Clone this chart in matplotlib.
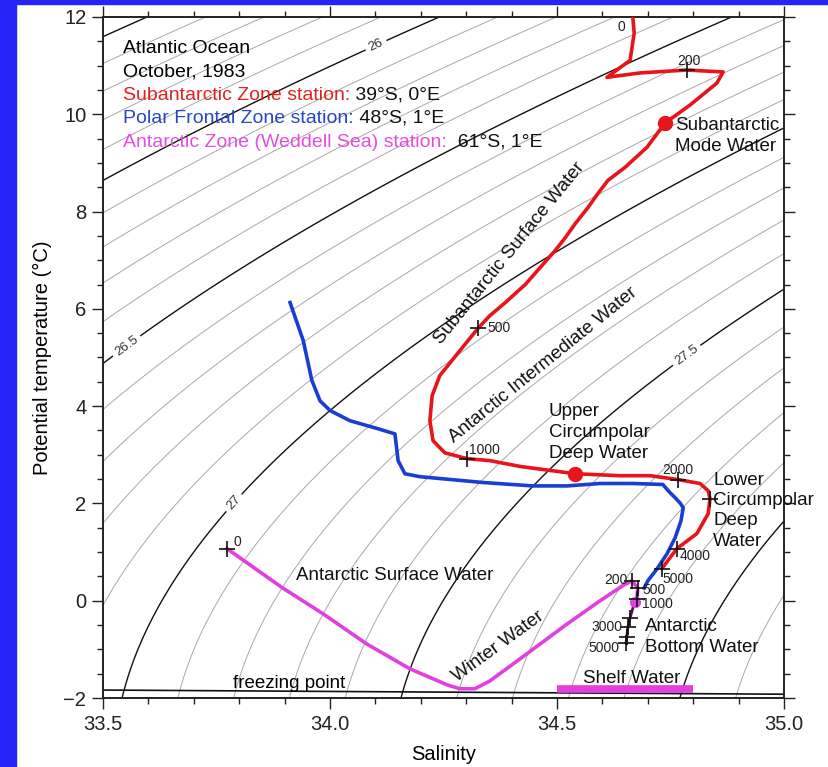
import numpy as np
import matplotlib
matplotlib.use("Agg")
import matplotlib.pyplot as plt
from matplotlib.patches import Rectangle
from matplotlib.ticker import MultipleLocator

plt.rcParams['font.family'] = ['Liberation Sans', 'DejaVu Sans']

# ---------------- STATION PROFILES (salinity, potential temperature) ----------------
# Subantarctic Zone station, 39S 0E
red_sal = [34.667, 34.667, 34.670, 34.661, 34.610, 34.683, 34.786, 34.866, 34.852, 34.793,
           34.738, 34.698, 34.650, 34.612, 34.590, 34.568, 34.540, 34.518, 34.496, 34.463,
           34.430, 34.385, 34.352, 34.326, 34.286, 34.242, 34.225, 34.220, 34.227, 34.253,
           34.302, 34.352, 34.419, 34.540, 34.639, 34.705, 34.767, 34.815, 34.833, 34.837,
           34.833, 34.808, 34.764, 34.731]
red_temp = [12.10, 12.00, 11.67, 11.11, 10.76, 10.85, 10.91, 10.87, 10.64, 10.19,
            9.82, 9.32, 8.91, 8.64, 8.37, 8.08, 7.75, 7.46, 7.20, 6.85,
            6.50, 6.12, 5.86, 5.60, 5.14, 4.63, 4.22, 3.70, 3.29, 3.04,
            2.92, 2.88, 2.76, 2.61, 2.57, 2.57, 2.49, 2.41, 2.26, 2.10,
            1.79, 1.38, 1.07, 0.66]
red_depth = [200, 500, 1000, 2000, 3000, 4000, 5000]
red_depth_sal = [34.786, 34.326, 34.302, 34.767, 34.837, 34.764, 34.731]
red_depth_temp = [10.91, 5.60, 2.92, 2.49, 2.10, 1.07, 0.66]
red_depth_text = ['200', '500', '1000', '2000', '', '4000', '5000']
red_dot_sal = [34.738, 34.540]
red_dot_temp = [9.82, 2.61]

# Polar Frontal Zone station, 48S 1E
blue_sal = [33.912, 33.941, 33.960, 33.978, 34.000, 34.044, 34.104, 34.143, 34.150, 34.165,
            34.198, 34.337, 34.447, 34.522, 34.595, 34.667, 34.733, 34.749, 34.760, 34.771,
            34.778, 34.773, 34.760, 34.742, 34.720, 34.700, 34.692]
blue_temp = [6.13, 5.35, 4.53, 4.11, 3.91, 3.70, 3.54, 3.43, 2.88, 2.61,
             2.55, 2.43, 2.36, 2.36, 2.41, 2.41, 2.39, 2.22, 2.12, 2.01,
             1.91, 1.64, 1.29, 0.96, 0.65, 0.41, 0.26]

# Antarctic Zone (Weddell Sea) station, 61S 1E
mag_sal = [33.773, 33.896, 33.985, 34.081, 34.176, 34.258, 34.286, 34.319, 34.352, 34.412,
           34.522, 34.595, 34.645, 34.665, 34.678, 34.676, 34.670]
mag_temp = [1.07, 0.26, -0.27, -0.89, -1.40, -1.73, -1.81, -1.81, -1.65, -1.24,
            -0.48, 0.00, 0.31, 0.41, 0.26, 0.04, -0.06]
deep_sal = [34.670, 34.661, 34.656, 34.654, 34.652]
deep_temp = [-0.06, -0.35, -0.54, -0.74, -0.87]
mag_depth = [0, 200, 500, 1000, 2000, 3000, 4000, 5000]
mag_depth_sal = [33.773, 34.665, 34.678, 34.676, 34.661, 34.656, 34.654, 34.652]
mag_depth_temp = [1.07, 0.41, 0.26, 0.04, -0.35, -0.54, -0.74, -0.87]
mag_depth_text = ['0', '200', '500', '1000', '', '3000', '', '5000']
mag_dot_sal = [34.672]
mag_dot_temp = [-0.02]

shelf_sal = [34.50, 34.80]
shelf_temp = [-1.82, -1.82]

# ---------------- DENSITY (UNESCO EOS-80 at surface) ----------------
def sigma_theta(s, t):
    rho_w = (999.842594 + 6.793952e-2 * t - 9.095290e-3 * t**2 + 1.001685e-4 * t**3
             - 1.120083e-6 * t**4 + 6.536332e-9 * t**5)
    a = 8.24493e-1 - 4.0899e-3 * t + 7.6438e-5 * t**2 - 8.2467e-7 * t**3 + 5.3875e-9 * t**4
    b = -5.72466e-3 + 1.0227e-4 * t - 1.6546e-6 * t**2
    c = 4.8314e-4
    return rho_w + a * s + b * s**1.5 + c * s**2 - 1000.0

def freezing_point(s):
    return -0.0575 * s + 1.710523e-3 * s**1.5 - 2.154996e-4 * s**2

RED = '#e8141b'
BLUE = '#1a3fd0'
MAGENTA = '#e23fe0'
DEEP = '#5a1048'

fig = plt.figure(figsize=(8.29, 7.67), dpi=100)
fig.patch.set_facecolor('white')
fig.patches.append(Rectangle((0, 0), 16 / 829, 1, transform=fig.transFigure,
                             color='#2424f4', zorder=0))
fig.patches.append(Rectangle((0, 1 - 4 / 767), 1, 4 / 767, transform=fig.transFigure,
                             color='#2424f4', zorder=0))

ax = fig.add_axes([0.12425, 0.08996, 0.82147, 0.88788])
ax.set_xlim(33.5, 35.0)
ax.set_ylim(-2, 12)

# density grid
ss = np.linspace(33.4, 35.1, 300)
tt = np.linspace(-2.5, 12.5, 300)
SS, TT = np.meshgrid(ss, tt)
SIG = sigma_theta(SS, TT)
thin_levels = [round(v, 1) for v in np.arange(25.0, 28.3, 0.1) if abs(v * 2 - round(v * 2)) > 0.01]
ax.contour(SS, TT, SIG, levels=thin_levels, colors='#a8a8a8', linewidths=0.7, zorder=1)
ax.contour(SS, TT, SIG, levels=[25.5, 28.0], colors='#111111', linewidths=1.0, zorder=1)
cs = ax.contour(SS, TT, SIG, levels=[26.0, 26.5, 27.0, 27.5],
                colors='#111111', linewidths=1.0, zorder=1)
ax.clabel(cs, fmt=lambda v: f'{v:g}', fontsize=9.5,
          colors='#333333', inline=True, inline_spacing=4,
          manual=[(34.10, 11.45), (33.555, 5.2), (33.79, 2.0), (34.786, 5.04)])

# freezing point line
fs = np.linspace(33.5, 35.0, 50)
ax.plot(fs, freezing_point(fs), color='#111111', lw=1.2, zorder=2)
ax.text(33.786, -1.71, 'freezing point', fontsize=13.5, ha='left', va='center', zorder=6)

# station profiles
ax.plot(red_sal, red_temp, color=RED, lw=2.6, zorder=4)
ax.plot(blue_sal, blue_temp, color=BLUE, lw=2.6, zorder=4)
ax.plot(mag_sal, mag_temp, color=MAGENTA, lw=2.6, zorder=4)
ax.plot(deep_sal, deep_temp, color=DEEP, lw=2.0, zorder=4)
ax.plot(shelf_sal, shelf_temp, color=MAGENTA, lw=5.5, solid_capstyle='butt', zorder=4)
ax.plot(red_dot_sal, red_dot_temp, 'o', color=RED, ms=10, zorder=5)
ax.plot(mag_dot_sal, mag_dot_temp, 'o', color=MAGENTA, ms=7, zorder=5)

# depth markers and labels
ax.plot(red_depth_sal, red_depth_temp, '+', color='#111111', ms=11, mew=1.2, zorder=6)
ax.plot(mag_depth_sal, mag_depth_temp, '+', color='#111111', ms=11, mew=1.2, zorder=6)

red_offsets = {'200': (2, 9, 'center'), '500': (9, 0, 'left'), '1000': (2, 9, 'left'),
               '2000': (0, 10, 'center'), '4000': (3, -7, 'left'), '5000': (1, -10, 'left')}
for s, t, txt in zip(red_depth_sal, red_depth_temp, red_depth_text):
    if txt:
        dx, dy, ha = red_offsets[txt]
        ax.annotate(txt, (s, t), xytext=(dx, dy), textcoords='offset pixels',
                    ha=ha, va='center', fontsize=10, color='#222222', zorder=7)
ax.annotate('0', (34.667, 11.80), xytext=(-11, 0), textcoords='offset pixels',
            ha='center', va='center', fontsize=10, color='#222222', zorder=7)

mag_offsets = {'0': (7, 7, 'left'), '200': (-4, 1, 'right'), '500': (5, -2, 'left'),
               '1000': (5, -5, 'left'), '3000': (-5, 0, 'right'), '5000': (-7, -5, 'right')}
for s, t, txt in zip(mag_depth_sal, mag_depth_temp, mag_depth_text):
    if txt:
        dx, dy, ha = mag_offsets[txt]
        ax.annotate(txt, (s, t), xytext=(dx, dy), textcoords='offset pixels',
                    ha=ha, va='center', fontsize=10, color='#222222', zorder=7)

# header
hx = 33.544
ax.text(hx, 11.36, 'Atlantic Ocean', fontsize=14, va='center', zorder=6)
ax.text(hx, 10.87, 'October, 1983', fontsize=14, va='center', zorder=6)
header = [('Subantarctic Zone station:', ' 39°S, 0°E', '#e02222', 10.39),
          ('Polar Frontal Zone station:', ' 48°S, 1°E', '#2a45c8', 9.92),
          ('Antarctic Zone (Weddell Sea) station:', '  61°S, 1°E', '#e050dc', 9.43)]
for lead, tail, col, y in header:
    t1 = ax.text(hx, y, lead, fontsize=14, color=col, va='center', zorder=6)
    ax.annotate(tail, xy=(1, 0), xycoords=t1, va='bottom', ha='left',
                fontsize=14, color='#111111', zorder=6)

# water mass names
wm = dict(fontsize=13.5, color='#111111', zorder=6)
ax.text(34.760, 9.55, 'Subantarctic\nMode Water', ha='left', va='center', linespacing=1.3, **wm)
ax.text(34.396, 7.14, 'Subantarctic Surface Water', ha='center', va='center',
        rotation=51, rotation_mode='anchor', **wm)
ax.text(34.469, 4.835, 'Antarctic Intermediate Water', ha='center', va='center',
        rotation=39, rotation_mode='anchor', **wm)
ax.text(34.482, 3.456, 'Upper\nCircumpolar\nDeep Water', ha='left', va='center',
        linespacing=1.3, **wm)
ax.text(34.844, 1.85, 'Lower\nCircumpolar\nDeep\nWater', ha='left', va='center',
        linespacing=1.26, **wm)
ax.text(33.925, 0.51, 'Antarctic Surface Water', ha='left', va='center', **wm)
ax.text(34.370, -0.93, 'Winter Water', ha='center', va='center',
        rotation=36, rotation_mode='anchor', **wm)
ax.text(34.694, -0.745, 'Antarctic\nBottom Water', ha='left', va='center',
        linespacing=1.3, **wm)
ax.text(34.665, -1.59, 'Shelf Water', ha='center', va='center', **wm)

# axes styling
ax.set_xticks([33.5, 34.0, 34.5, 35.0])
ax.set_xticklabels(['33.5', '34.0', '34.5', '35.0'])
ax.xaxis.set_minor_locator(MultipleLocator(0.1))
ax.set_yticks([-2, 0, 2, 4, 6, 8, 10, 12])
ax.yaxis.set_minor_locator(MultipleLocator(0.5))
ax.tick_params(which='both', direction='out', top=True, right=True, width=1.0,
               colors='#222222', labelsize=14.5)
ax.tick_params(which='major', length=8, pad=4)
ax.tick_params(which='minor', length=4)
for sp in ax.spines.values():
    sp.set_linewidth(1.4)
    sp.set_color('#222222')
ax.set_xlabel('Salinity', fontsize=14.5, labelpad=8)
ax.set_ylabel('Potential temperature (°C)', fontsize=14.5, labelpad=8)

fig.savefig('out.png', dpi=100)
